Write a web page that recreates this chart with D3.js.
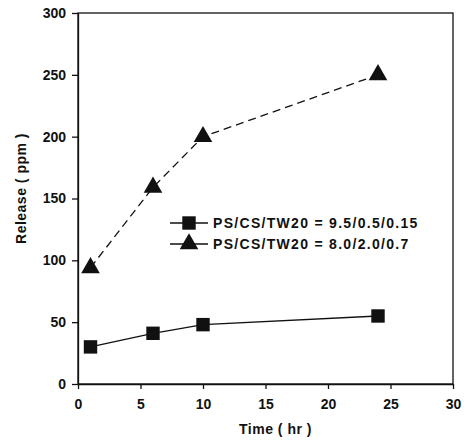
<!DOCTYPE html>
<html lang="en">
<head>
<meta charset="utf-8">
<title>Release vs Time</title>
<script src="https://d3js.org/d3.v7.min.js"></script>
<style>
  body { margin: 0; background: #fff; }
  svg text { font-family: "Liberation Sans", Arial, sans-serif; font-weight: bold; fill: #111; }
  .axis path, .axis line { stroke: #111; stroke-width: 1.3px; }
  .axis text { font-size: 14px; }
</style>
</head>
<body>
<div id="chart"></div>
<script>
// data
var times = [1, 6, 10, 24];
var releaseA = [30, 41, 48, 55];    // PS/CS/TW20 = 9.5/0.5/0.15 (squares)
var releaseB = [94, 159, 200, 250]; // PS/CS/TW20 = 8.0/2.0/0.7 (triangles)
var seriesNames = ["PS/CS/TW20 = 9.5/0.5/0.15", "PS/CS/TW20 = 8.0/2.0/0.7"];
var xTicks = [0, 5, 10, 15, 20, 25, 30];
var yTicks = [0, 50, 100, 150, 200, 250, 300];

var W = 466, H = 447;
var margin = {top: 13, right: 13, bottom: 63, left: 78},
    width = W - margin.left - margin.right,
    height = H - margin.top - margin.bottom;

var svg = d3.select("#chart").append("svg")
    .attr("width", W)
    .attr("height", H)
  .append("g")
    .attr("transform", "translate(" + margin.left + "," + margin.top + ")");

var x = d3.scaleLinear().domain([0, 30]).range([0, width]);
var y = d3.scaleLinear().domain([0, 300]).range([height, 0]);

// frame
svg.append("rect")
    .attr("width", width).attr("height", height)
    .attr("fill", "none").attr("stroke", "#111").attr("stroke-width", 1.3);

svg.append("g")
    .attr("class", "axis")
    .attr("transform", "translate(0," + height + ")")
    .call(d3.axisBottom(x).tickValues(xTicks).tickSize(5).tickSizeOuter(0).tickPadding(10));

svg.append("g")
    .attr("class", "axis")
    .call(d3.axisLeft(y).tickValues(yTicks).tickSize(6).tickSizeOuter(0).tickPadding(6));

var dataA = times.map(function(t, i) { return {t: t, v: releaseA[i]}; });
var dataB = times.map(function(t, i) { return {t: t, v: releaseB[i]}; });

var line = d3.line()
    .x(function(d) { return x(d.t); })
    .y(function(d) { return y(d.v); });

svg.append("path").datum(dataA)
    .attr("d", line).attr("fill", "none")
    .attr("stroke", "#111").attr("stroke-width", 1.3);

svg.append("path").datum(dataB)
    .attr("d", line).attr("fill", "none")
    .attr("stroke", "#111").attr("stroke-width", 1.3)
    .attr("stroke-dasharray", "8,5");

var square = d3.symbol().type(d3.symbolSquare).size(180);
var triangle = d3.symbol().type(d3.symbolTriangle).size(150);

svg.selectAll(".sq").data(dataA).enter().append("path")
    .attr("class", "sq")
    .attr("d", square)
    .attr("transform", function(d) { return "translate(" + x(d.t) + "," + y(d.v) + ")"; })
    .attr("fill", "#111");

svg.selectAll(".tri").data(dataB).enter().append("path")
    .attr("class", "tri")
    .attr("d", triangle)
    .attr("transform", function(d) { return "translate(" + x(d.t) + "," + y(d.v) + ")"; })
    .attr("fill", "#111");

// legend
var legend = svg.append("g").attr("transform", "translate(92,210)");
var shapes = [square, triangle];
seriesNames.forEach(function(name, i) {
  var g = legend.append("g").attr("transform", "translate(0," + (i * 21) + ")");
  g.append("line").attr("x1", 0).attr("x2", 38)
      .attr("stroke", "#111").attr("stroke-width", 1.3);
  g.append("path").attr("d", shapes[i])
      .attr("transform", "translate(19,0)").attr("fill", "#111");
  g.append("text").attr("x", 43).attr("dy", "0.35em")
      .style("font-size", "14px").style("letter-spacing", "1.3px")
      .text(name);
});

// axis titles
svg.append("text")
    .attr("x", width / 2 + 10).attr("y", height + 50)
    .attr("text-anchor", "middle")
    .style("font-size", "14px").style("letter-spacing", "0.5px")
    .text("Time ( hr )");

svg.append("text")
    .attr("transform", "rotate(-90)")
    .attr("x", -(height / 2) + 10).attr("y", -52)
    .attr("text-anchor", "middle")
    .style("font-size", "14px").style("letter-spacing", "0.5px")
    .text("Release ( ppm )");
</script>
</body>
</html>
